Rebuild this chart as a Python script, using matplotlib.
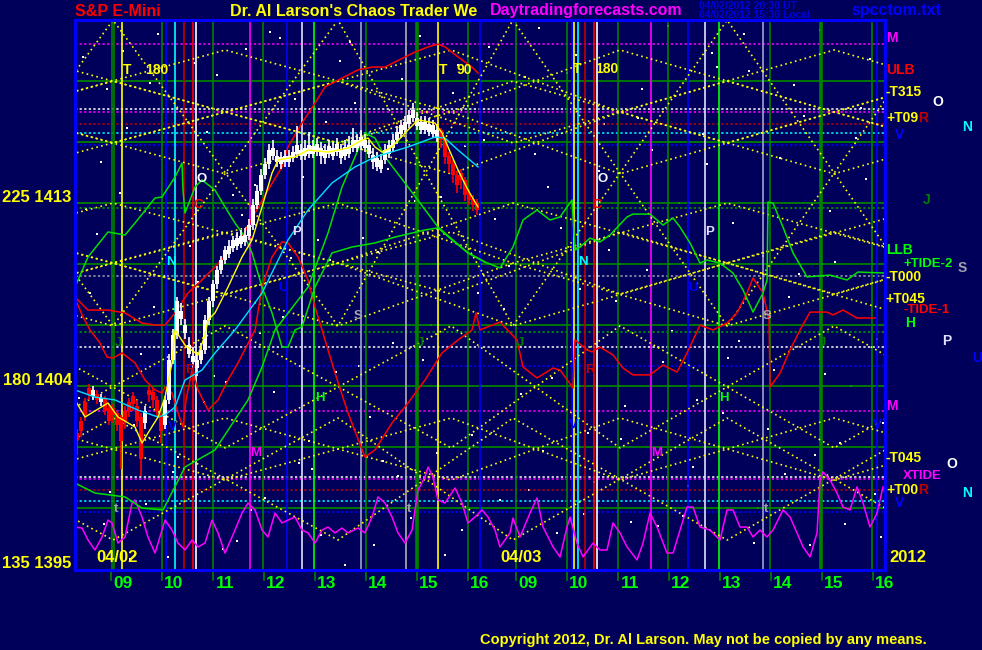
import matplotlib
matplotlib.use('Agg')
import matplotlib.pyplot as plt
import matplotlib.transforms as mtransforms
import numpy as np

W, H = 982, 650
BG = '#00005a'
FONT = 'Liberation Sans'

# ---------------- axes ranges (chart hours / price) ----------------
X_LEFT, X_RIGHT = 8.294, 24.176
Y_BOTTOM, Y_TOP = 1394.656, 1421.705
DAY2 = 7.941                      # chart hours from day-1 09:00 to day-2 09:00

tick_hours = [9, 10, 11, 12, 13, 14, 15, 16]
tick_labels = ['09', '10', '11', '12', '13', '14', '15', '16']

y_label_prices = [1413, 1404, 1395]
y_label_texts = ['225 1413', '180 1404', '135 1395']

# ---------------- candles (5-min bars, day 1) ----------------
bar_t0, bar_step = 8.333, 0.0784
bar_close = [1401.05,1401.5,1402.3,1403.25,1403.5,1403.0,1403.1,1402.5,1402.0,1402.3,
             1401.8,1401.0,1402.0,1402.5,1402.8,1402.0,1400.1,1402.5,1403.25,1403.0,
             1402.5,1401.5,1403.0,1405.0,1406.2,1407.9,1407.4,1406.7,1405.7,1405.2,
             1405.0,1405.5,1406.95,1407.9,1408.7,1409.4,1409.9,1410.4,1410.6,1410.9,
             1411.0,1411.1,1411.15,1411.6,1412.6,1413.3,1414.1,1414.6,1415.3,1415.4,
             1415.0,1414.95,1415.0,1415.0,1415.2,1415.55,1415.3,1415.4,1415.55,1415.5,
             1415.6,1415.4,1415.3,1415.5,1415.4,1415.6,1415.3,1415.45,1415.55,1415.8,
             1415.8,1415.95,1415.8,1415.55,1415.05,1414.9,1414.8,1415.3,1415.55,1415.8,
             1416.2,1416.55,1416.7,1417.05,1417.3,1416.9,1416.7,1416.7,1416.6,1416.55,
             1416.3,1415.8,1414.95,1414.6,1414.1,1413.6,1413.85,1413.1,1412.85,1412.6,
             1412.35]
bar_open = [1401.4,1402.0,1402.9,1403.6,1403.2,1403.3,1402.9,1403.1,1402.6,1402.6,
            1402.4,1402.2,1402.5,1402.9,1403.2,1402.7,1402.2,1401.9,1403.5,1403.4,
            1403.0,1402.3,1401.8,1403.0,1405.0,1406.2,1407.0,1406.3,1405.3,1404.9,
            1404.6,1405.0,1405.5,1406.95,1407.9,1408.7,1409.4,1409.9,1410.2,1410.5,
            1410.6,1410.7,1410.8,1411.1,1411.6,1412.6,1413.3,1414.1,1414.6,1415.0,
            1414.7,1414.6,1414.7,1414.7,1414.9,1415.1,1415.0,1415.0,1415.1,1415.1,
            1415.2,1415.0,1414.9,1415.1,1415.0,1415.2,1414.9,1415.0,1415.1,1415.4,
            1415.4,1415.5,1415.4,1415.1,1414.7,1414.5,1414.4,1414.8,1415.1,1415.4,
            1415.8,1416.1,1416.3,1416.6,1416.9,1416.5,1416.3,1416.3,1416.2,1416.1,
            1415.9,1416.3,1415.8,1415.0,1414.6,1414.1,1414.2,1413.85,1413.2,1412.9,
            1412.7]
bar_high = [1401.6,1402.2,1403.1,1403.8,1403.7,1403.5,1403.3,1403.2,1402.8,1402.8,
            1402.5,1402.3,1402.7,1403.1,1403.4,1403.0,1402.4,1402.7,1403.7,1403.6,
            1403.2,1402.5,1403.2,1405.3,1406.5,1408.1,1407.8,1407.0,1406.1,1405.6,
            1405.4,1405.8,1407.2,1408.1,1408.9,1409.6,1410.1,1410.6,1410.9,1411.1,
            1411.3,1411.4,1411.5,1411.9,1412.9,1413.6,1414.4,1414.9,1415.6,1415.8,
            1415.3,1415.2,1415.3,1415.3,1415.5,1416.5,1415.6,1415.8,1416.2,1415.8,
            1415.9,1415.7,1415.6,1415.8,1415.7,1415.9,1415.6,1415.8,1416.0,1416.4,
            1416.1,1416.3,1416.1,1415.8,1415.4,1415.2,1415.1,1415.6,1415.8,1416.1,
            1416.5,1416.8,1417.0,1417.3,1417.6,1417.2,1417.0,1417.0,1416.9,1416.8,
            1416.6,1416.4,1415.9,1415.2,1414.8,1414.3,1414.4,1414.0,1413.4,1413.1,
            1412.9]
bar_low = [1400.3,1401.2,1402.0,1403.0,1403.0,1402.8,1402.7,1402.3,1401.8,1401.9,
           1401.5,1399.6,1401.6,1402.2,1402.5,1401.7,1399.3,1401.6,1402.9,1402.6,
           1402.2,1400.9,1401.6,1402.8,1404.8,1406.0,1406.7,1406.0,1405.1,1404.6,
           1404.2,1404.8,1405.3,1406.7,1407.6,1408.5,1409.2,1409.7,1410.0,1410.3,
           1410.4,1410.5,1410.6,1410.9,1411.4,1412.4,1413.1,1413.9,1414.4,1414.8,
           1414.5,1414.4,1414.5,1414.5,1414.7,1414.9,1414.8,1414.8,1414.9,1414.9,
           1415.0,1414.6,1414.6,1414.9,1414.8,1415.0,1414.6,1414.8,1414.9,1415.2,
           1415.2,1415.3,1415.2,1414.9,1414.4,1414.3,1414.2,1414.6,1414.9,1415.2,
           1415.6,1415.9,1416.1,1416.4,1416.7,1416.3,1416.1,1416.1,1416.0,1415.9,
           1415.7,1415.4,1414.6,1414.2,1413.7,1413.2,1413.4,1412.8,1412.6,1412.3,
           1412.1]

# ---------------- overlay curves ----------------
ma_t = [8.294,8.49,8.941,9.137,9.47,9.608,9.725,9.922,10.059,10.196,10.255,10.451,10.706,
        10.843,10.902,11.039,11.294,11.569,11.765,11.961,12.157,12.275,12.608,12.863,13.255,
        13.647,13.922,14.039,14.176,14.314,14.51,14.824,15.02,15.353,15.49,15.608,15.804,16.0,16.196]
ma_p = [1403.02,1402.18,1402.87,1402.18,1401.69,1400.90,1401.39,1402.18,1403.16,1404.84,1406.46,
        1405.72,1405.23,1406.21,1406.95,1407.30,1408.57,1410.05,1410.89,1412.51,1414.18,1414.82,
        1414.97,1415.31,1415.21,1415.41,1415.80,1415.90,1415.46,1415.21,1415.46,1416.30,1416.79,
        1416.64,1416.15,1415.46,1414.33,1413.34,1412.51]

cyan_t = [8.294,8.686,9.078,9.53,9.922,10.059,10.255,10.451,10.784,11.039,11.431,11.961,12.471,
          12.863,13.333,13.784,14.176,14.824,15.353,15.549,15.804,16.196]
cyan_p = [1403.51,1403.16,1403.02,1402.52,1402.18,1402.28,1402.67,1404.00,1404.49,1405.33,1406.46,
          1408.28,1410.89,1412.36,1413.69,1414.48,1414.97,1415.46,1415.95,1415.90,1415.31,1414.48]

green1_t = [8.294,8.686,9.275,9.608,10.02,10.451,11.039,11.686,11.961,12.216,12.863,13.255,13.529,
            13.784,13.98,14.176,14.373,14.824,15.412,16.0,16.333]
green1_p = [1398.93,1398.44,1398.25,1397.70,1397.61,1399.72,1400.56,1403.02,1404.64,1406.46,1408.57,
            1411.23,1413.49,1414.97,1416.15,1415.90,1414.97,1413.49,1411.52,1410.25,1409.80]

green2_t = [8.294,8.549,8.941,9.275,9.47,9.863,10.0,10.255,10.392,10.412,10.451,10.647,10.784,11.039,
            11.235,11.431,11.627,11.765,11.961,12.157,12.353,12.471,12.608,12.745,13.0,13.333,13.725,
            14.176,14.569,15.157,15.412,15.686,16.0,16.333,16.627,16.882,17.078,17.353,17.608,17.804,
            18.039,18.098,18.196,18.392,18.588,18.784,19.118,19.235,19.569,19.824,20.02,20.157,20.353,
            20.549,20.686,20.941,21.196,21.392,21.588,21.784,21.863,21.882,21.98,22.176,22.373,22.647,
            23.098,23.431,23.647,24.176]
green2_p = [1408.57,1410.05,1411.28,1411.13,1411.72,1412.95,1413.00,1413.98,1414.67,1413.34,1412.21,
            1413.49,1413.84,1413.34,1412.51,1411.72,1411.03,1410.25,1408.57,1407.30,1405.62,1405.62,
            1406.46,1406.61,1408.57,1410.25,1410.54,1410.74,1411.03,1411.38,1411.48,1410.89,1410.25,
            1409.80,1409.51,1410.54,1411.87,1412.36,1411.87,1412.02,1412.85,1410.39,1410.54,1410.98,
            1410.79,1411.13,1412.02,1412.16,1412.16,1411.62,1411.97,1411.52,1410.74,1409.75,1409.90,
            1409.75,1409.26,1408.43,1407.34,1408.28,1408.92,1412.75,1412.70,1411.52,1410.25,1409.07,
            1409.16,1408.92,1409.31,1409.26]

red1_t = [8.294,8.549,8.941,9.275,9.608,9.863,10.059,10.255,10.51,10.784,11.039,11.294,11.569,11.824,
          12.078,12.353,12.471,12.745,13.0,13.196,13.529,13.843,14.118,14.373,14.569,14.961,15.216,
          15.412,15.549,15.804,16.078,16.196]
red1_p = [1408.08,1407.44,1407.44,1407.30,1406.80,1406.70,1406.70,1407.30,1408.28,1408.92,1409.56,
          1410.25,1411.03,1412.21,1413.34,1414.48,1415.46,1416.64,1417.62,1418.41,1418.85,1419.25,
          1419.39,1419.39,1419.64,1420.13,1420.38,1420.52,1420.38,1419.89,1419.39,1419.10]

red2_t = [8.294,8.451,8.588,8.784,8.922,9.039,9.216,9.47,9.667,9.863,10.0,10.059,10.196,10.314,10.412,
          10.471,10.588,10.706,10.902,11.098,11.294,11.49,11.824,11.961,12.157,12.353,12.471,12.667,
          12.863,13.0,13.137,13.392,13.647,13.98,14.176,14.51,14.824,15.157,15.49,15.804,16.078,16.157,
          16.235,16.627,16.961,17.078,17.353,17.667,17.804,18.059,18.098,18.333,18.431,18.588,18.843,
          19.039,19.235,19.569,19.824,20.098,20.294,20.549,20.804,21.078,21.275,21.471,21.588,21.784,
          21.902,21.922,22.118,22.314,22.51,22.706,23.039,23.157,23.353,23.627,23.98]
red2_p = [1408.03,1407.10,1406.46,1405.82,1405.13,1405.08,1405.33,1404.84,1404.00,1403.51,1403.36,
          1403.66,1403.36,1402.38,1401.69,1403.02,1404.49,1403.51,1402.52,1403.02,1404.00,1404.84,
          1406.46,1408.57,1410.05,1410.79,1410.74,1410.05,1408.92,1407.59,1406.46,1404.34,1402.38,
          1400.21,1400.56,1401.89,1402.87,1404.00,1405.33,1405.97,1406.46,1407.30,1406.46,
          1406.85,1405.97,1404.64,1404.10,1404.59,1404.49,1403.61,1405.97,1405.48,1405.38,1405.62,
          1405.23,1404.59,1404.25,1404.25,1404.74,1404.39,1405.33,1406.70,1406.46,1406.80,1407.30,
          1408.28,1409.02,1408.28,1406.95,1403.66,1404.34,1405.48,1406.46,1407.34,1407.34,1407.20,
          1407.44,1407.05,1407.05]

osc_t = [8.294,8.431,8.549,8.686,8.824,8.941,9.02,9.137,9.275,9.412,9.47,9.608,9.725,9.863,10.0,
         10.059,10.196,10.314,10.451,10.588,10.706,10.843,10.98,11.098,11.235,11.431,11.569,11.686,
         11.824,11.961,12.078,12.216,12.353,12.471,12.608,12.745,12.863,13.0,13.137,13.255,13.392,
         13.529,13.647,13.843,13.98,14.118,14.235,14.373,14.51,14.627,14.765,14.902,15.02,15.157,
         15.216,15.314,15.412,15.549,15.745,15.882,16.0,16.137,16.275,16.392,16.529,
         16.627,16.824,16.882,17.02,17.216,17.353,17.471,17.667,17.804,17.941,18.0,18.137,18.255,
         18.451,18.588,18.725,18.843,18.98,19.118,19.314,19.431,19.569,19.706,19.902,20.02,20.157,
         20.294,20.412,20.549,20.745,20.941,21.078,21.196,21.333,21.471,21.588,21.725,21.863,21.98,
         22.176,22.314,22.451,22.569,22.706,22.843,22.902,22.961,23.098,23.235,23.353,23.49,23.627,
         23.745,23.882,24.02,24.137]
osc_p = [1396.77,1396.72,1396.13,1395.64,1396.28,1397.11,1396.97,1395.98,1396.28,1397.95,1398.10,
         1397.26,1396.28,1395.49,1396.62,1397.11,1396.62,1395.98,1395.64,1396.13,1395.79,1395.98,
         1397.11,1396.48,1395.49,1396.62,1397.46,1397.95,1397.61,1396.62,1396.28,1397.46,1396.97,
         1397.11,1397.26,1396.62,1396.48,1395.98,1396.62,1396.77,1396.48,1396.72,1396.48,1396.72,
         1396.48,1397.26,1398.25,1397.95,1397.26,1396.48,1395.98,1396.62,1398.59,1399.23,1399.72,
         1399.23,1398.10,1397.95,1398.69,1397.95,1396.97,1397.26,1397.61,1397.26,1396.62,
         1395.79,1396.48,1397.21,1396.28,1397.46,1398.20,1396.77,1395.79,1395.30,1396.77,1397.26,
         1395.98,1395.30,1395.98,1395.64,1395.64,1396.97,1396.48,1395.79,1395.15,1395.98,1397.46,
         1396.77,1395.49,1395.49,1396.62,1397.75,1397.75,1396.77,1396.62,1396.13,1397.61,1397.61,
         1396.77,1396.77,1396.28,1396.62,1396.28,1396.62,1397.61,1397.26,1396.48,1395.79,1395.30,
         1396.48,1399.08,1399.48,1399.08,1398.44,1397.75,1397.61,1398.74,1397.95,1396.77,1397.46,
         1398.74]

# ---------------- time/price lines (yellow dotted zig-zags) ----------------
zig_times_A = [6.82, 11.24, 15.67, 18.98, 23.18, 27.38]
zig_times_B = [4.63, 9.04, 13.45, 16.88, 21.08, 25.28]
zigA_levels = [(1420.23, 1417.18), (1417.18, 1414.14), (1411.28, 1408.23),
               (1406.66, 1400.66), (1402.13, 1399.08)]
zigB_levels = [(1421.70, 1406.66), (1418.70, 1415.66), (1402.13, 1396.13),
               (1409.75, 1406.66), (1412.70, 1409.75)]

# ---------------- horizontal levels ----------------
green_levels = [1418.70, 1415.70, 1412.70, 1409.70, 1406.70, 1403.70, 1400.70, 1397.70]
dotted_levels = [1420.52, 1417.33, 1417.18, 1416.59, 1416.15, 1415.56, 1412.46, 1409.11,
                 1406.36, 1405.62, 1404.69, 1402.48, 1399.23, 1399.13, 1398.59, 1398.05, 1397.51]
dotted_colors = ['#ff00ff', '#ffffff', '#ff00ff', '#c00000', '#00ffff', '#0000ff', '#00a000', '#a0a0b0',
                 '#00a000', '#ffffff', '#0000ff', '#ff00ff', '#ffffff', '#ff00ff', '#c00000', '#00ffff', '#0000ff']

# ---------------- vertical time lines ----------------
vline_t = [9.014, 9.053, 9.216, 10.0, 10.078, 10.255, 10.431, 10.608, 10.667, 11.0, 11.725, 11.98,
           12.451, 12.745, 12.98, 13.902, 14.0, 14.784, 15.0, 15.412, 16.0, 16.235,
           16.941, 17.941, 18.039, 18.078, 18.157, 18.294, 18.471, 18.529, 18.941, 19.588, 19.922,
           20.314, 20.647, 20.922, 21.784, 21.922, 22.922, 23.922, 24.02]
vline_c = ['#008000', '#008000', '#ffff00', '#008000', '#0000ff', '#00ffff', '#c00000', '#ff0000',
           '#ffffff', '#008000', '#ff00ff', '#008000', '#0000ff', '#e0e0ff', '#00ff00', '#a0a0d0',
           '#008000', '#b0b0b0', '#008000', '#ffff00', '#008000', '#0000ff',
           '#008000', '#008000', '#0000ff', '#ffff00', '#00ffff', '#c00000', '#ff0000', '#ffffff',
           '#008000', '#ff00ff', '#008000', '#0000ff', '#e0e0ff', '#00ff00', '#a0a0d0', '#008000',
           '#008000', '#008000', '#0000ff']
vline_w = [1.2, 1.2, 1.2, 1.2, 1.2, 1.2, 1.2, 1.2, 1.2, 1.2, 1.2, 1.2, 1.2, 1.2, 1.2, 1.2,
           1.2, 1.2, 2.6, 1.2, 1.2, 1.2,
           1.2, 1.2, 1.2, 1.2, 1.2, 1.2, 1.2, 1.2, 1.2, 1.2, 1.2, 1.2, 1.2, 1.2, 1.2, 1.2,
           2.6, 1.2, 1.2]

# ---------------- planet letters ----------------
letter_text = ['O', 'C', 'N', 'P', 'U', 'S', 'J', 'J', 'R', 'H', 'V', 'M', 't', 't',
               'O', 'C', 'P', 'N', 'U', 'S', 'J', 'J', 'R', 'H', 'V', 'V', 'M', 't']
letter_t = [10.784, 10.706, 10.176, 12.647, 12.37, 13.843, 9.137, 15.06, 10.549, 13.10, 10.196,
            11.843, 9.098, 14.843,
            18.647, 18.53, 20.745, 18.255, 20.412, 21.863, 17.02, 22.941, 18.392, 21.02, 18.059,
            24.02, 19.706, 21.843]
letter_p = [1413.89, 1412.61, 1409.80, 1411.28, 1408.52, 1407.15, 1405.82, 1405.82, 1404.49, 1403.11,
            1401.69, 1400.41, 1397.66, 1397.66,
            1413.89, 1412.61, 1411.28, 1409.80, 1408.52, 1407.15, 1405.82, 1405.82, 1404.49, 1403.11,
            1401.79, 1401.79, 1400.41, 1397.66]
letter_c = ['#ffffff', '#ff0000', '#00ffff', '#e0e0ff', '#0000ff', '#a0a0b0', '#008000', '#008000',
            '#c00000', '#00ff00', '#0000ff', '#ff00ff', '#a0a0b0', '#a0a0b0',
            '#ffffff', '#ff0000', '#e0e0ff', '#00ffff', '#0000ff', '#a0a0b0', '#008000', '#008000',
            '#c00000', '#00ff00', '#0000ff', '#0000ff', '#ff00ff', '#a0a0b0']

t_marker_text = ['T', '180', 'T', '90', 'T', '180']
t_marker_t = [9.314, 9.9, 15.51, 15.93, 18.137, 18.73]
t_marker_p = [1419.25, 1419.25, 1419.25, 1419.25, 1419.30, 1419.30]

# ---------------- background star dots ----------------
star_t = [8.45,8.72,8.98,9.31,9.58,9.93,10.32,10.71,11.08,11.47,11.83,12.19,12.61,12.94,13.29,13.68,
          14.07,14.43,14.88,15.27,15.71,16.08,16.52,16.93,17.31,17.64,18.12,18.47,18.91,19.34,19.72,
          20.13,20.49,20.88,21.31,21.69,22.12,22.48,22.91,23.29,23.71,24.02,
          8.58,8.86,9.17,9.45,9.77,10.12,10.54,10.89,11.26,11.64,12.02,12.38,12.77,13.12,13.49,13.86,
          14.24,14.62,15.05,15.48,15.89,16.31,16.71,17.12,17.47,17.83,18.28,18.66,19.08,19.51,19.92,
          20.31,20.69,21.1,21.5,21.88,22.3,22.7,23.1,23.5,23.89,24.1,
          8.38,8.81,9.24,9.69,10.05,10.44,10.82,11.19,11.56,11.93,12.31,12.69,13.05,13.42,13.79,14.16,
          14.53,14.97,15.39,15.8,16.2,16.62,17.03,17.39,17.75,18.2,18.57,19.0,19.42,19.82,20.22,20.6,
          21.0,21.41,21.79,22.21,22.59,23.0,23.4,23.8,24.13,
          8.51,8.93,9.38,9.84,10.21,10.63,11.02,11.39,11.75,12.12,12.52,12.88,13.21,13.58,13.95,14.33,
          14.71,15.12,15.55,15.95,16.42,16.8,17.2,17.56,17.95,18.35,18.77,19.2,19.6,20.0,20.41,20.79,
          21.2,21.6,22.0,22.39,22.8,23.2,23.6,23.98]
star_p = [1419.9,1411.2,1398.5,1416.4,1405.3,1421.0,1400.2,1408.8,1419.0,1396.1,1413.6,1403.4,1417.8,
          1399.6,1409.9,1420.6,1402.2,1414.4,1397.2,1406.7,1418.1,1401.3,1411.9,1395.6,1415.1,1404.1,
          1420.0,1399.0,1407.9,1416.9,1396.8,1412.7,1403.0,1419.4,1405.9,1397.7,1414.9,1409.2,1421.2,
          1400.9,1417.4,1406.0,
          1408.3,1396.9,1413.2,1401.8,1418.6,1395.3,1410.6,1416.2,1403.9,1420.3,1398.2,1407.1,1414.0,
          1396.4,1419.7,1404.7,1410.3,1399.3,1420.9,1413.0,1396.6,1415.8,1407.5,1418.9,1400.5,1411.5,
          1397.4,1416.6,1402.7,1409.4,1421.4,1398.8,1414.6,1405.1,1419.2,1401.6,1408.1,1395.9,1412.3,
          1403.7,1419.8,1396.3,
          1403.1,1414.7,1420.2,1397.9,1409.1,1417.2,1402.9,1395.7,1412.1,1406.3,1420.8,1399.9,1410.9,
          1404.4,1417.6,1395.9,1405.8,1412.8,1400.4,1419.5,1408.3,1398.1,1403.3,1421.3,1396.5,1408.5,
          1414.3,1401.1,1418.3,1404.9,1397.3,1416.1,1402.4,1421.0,1410.1,1399.4,1417.0,1404.3,1396.9,
          1413.9,1401.9,
          1412.4,1418.3,1395.2,1407.6,1399.5,1419.6,1404.2,1413.1,1397.6,1421.1,1410.0,1401.0,1416.7,
          1394.9,1411.0,1400.0,1418.8,1405.0,1395.4,1415.5,1420.4,1409.6,1398.6,1413.5,1419.1,1401.4,
          1410.4,1397.0,1415.3,1406.4,1399.7,1420.1,1411.7,1396.0,1404.5,1418.5,1400.3,1409.8,1415.9,
          1398.4]

# ================= drawing =================
plt.rcParams['font.family'] = [FONT, 'DejaVu Sans']
fig = plt.figure(figsize=(W / 100, H / 100), dpi=100, facecolor=BG)
ax = fig.add_axes([75 / W, 80 / H, 810 / W, 550 / H])
ax.set_facecolor(BG)
ax.set_xlim(X_LEFT, X_RIGHT)
ax.set_ylim(Y_BOTTOM, Y_TOP)
ax.set_xticks([])
ax.set_yticks([])
for sp in ax.spines.values():
    sp.set_color('#0000ff')
    sp.set_linewidth(2.2)
    sp.set_zorder(20)

# stars
ax.scatter(star_t, star_p, s=3, c='#ffffff', marker='s', linewidths=0, zorder=1)

# horizontal levels
for p in green_levels:
    ax.axhline(p, color='#008000', lw=1.3, zorder=2)
for p, c in zip(dotted_levels, dotted_colors):
    ax.axhline(p, color=c, lw=1.1, ls=(0, (1.5, 1.5)), zorder=2)

# vertical lines
for t, c, w in zip(vline_t, vline_c, vline_w):
    ax.axvline(t, color=c, lw=w, zorder=2)

# zig-zag yellow dotted lines
def zig(times, hi, lo, start_hi):
    vals = []
    for i in range(len(times)):
        up = (i % 2 == 0) == start_hi
        vals.append(hi if up else lo)
    return vals

for hi, lo in zigA_levels:
    for s in (True, False):
        ax.plot(zig_times_A, zig(zig_times_A, hi, lo, s), color='#ffff00', lw=1.2,
                ls=(0, (1, 2.0)), zorder=3)
for hi, lo in zigB_levels:
    for s in (True, False):
        ax.plot(zig_times_B, zig(zig_times_B, hi, lo, s), color='#ffff00', lw=1.2,
                ls=(0, (1, 2.0)), zorder=3)

# curves
ax.plot(osc_t, osc_p, color='#ff00ff', lw=1.1, zorder=5)
ax.plot(red1_t, red1_p, color='#ff0000', lw=1.1, zorder=5)
ax.plot(red2_t, red2_p, color='#ff0000', lw=1.1, zorder=5)
ax.plot(green1_t, green1_p, color='#00e000', lw=1.1, zorder=5)
ax.plot(green2_t, green2_p, color='#00e000', lw=1.1, zorder=5)

# candles
n = len(bar_close)
bar_t = bar_t0 + np.arange(n) * bar_step
cols = ['#ffffff' if c >= o else '#ff0000' for o, c in zip(bar_open, bar_close)]
ax.vlines(bar_t, bar_low, bar_high, colors=cols, lw=1.2, zorder=6)
bottoms = [min(o, c) for o, c in zip(bar_open, bar_close)]
heights = [max(abs(c - o), 0.1) for o, c in zip(bar_open, bar_close)]
ax.bar(bar_t, heights, bottom=bottoms, width=0.066, color=cols, linewidth=0, zorder=6)

ax.plot(cyan_t, cyan_p, color='#00e0ff', lw=1.0, zorder=7)
ax.plot(ma_t, ma_p, color='#ffff00', lw=1.0, zorder=7)

# letters
for s, t, p, c in zip(letter_text, letter_t, letter_p, letter_c):
    ax.text(t, p, s, color=c, fontsize=9.5, fontweight='bold', ha='center', va='center', zorder=8)
for s, t, p in zip(t_marker_text, t_marker_t, t_marker_p):
    ax.text(t, p, s, color='#ffff00', fontsize=10, fontweight='bold', ha='center', va='center', zorder=8)

# x ticks and labels (outside axes)
bx = mtransforms.blended_transform_factory(ax.transData, ax.transAxes)
tick_pos = [h for h in tick_hours] + [h + DAY2 for h in tick_hours]
tick_txt = tick_labels + tick_labels
for t, s in zip(tick_pos, tick_txt):
    ax.plot([t, t], [0, -0.018], transform=bx, color='#008000', lw=1.2, clip_on=False, zorder=9)
    ax.text(t + 0.23, -0.025, s, transform=bx, color='#00ff00', fontsize=12.5, fontweight='bold',
            ha='center', va='center', clip_on=False)

# y labels
by = mtransforms.blended_transform_factory(ax.transAxes, ax.transData)
for p, s in zip(y_label_prices, y_label_texts):
    ax.text(-0.004, p, s, transform=by, color='#ffff00', fontsize=12, fontweight='bold',
            ha='right', va='center', clip_on=False)


def ftext(x, y, s, color, size, ha='left', weight='bold'):
    fig.text(x / W, 1 - y / H, s, color=color, fontsize=size, fontweight=weight,
             ha=ha, va='center')

# titles
ftext(75, 11, 'S&P E-Mini', '#ff0000', 11.5)
ftext(230, 11, "Dr. Al Larson's Chaos Trader We", '#ffff00', 11.5)
ftext(490, 11, 'Daytradingforecasts.com', '#ff00ff', 11.5)
ftext(699, 6, '04/02/2012 20:30 UT', '#0000dd', 7.5)
ftext(699, 15, '04/02/2012 15:30 Local', '#0000dd', 7.5)
ftext(851, 10, 'spcctom.txt', '#0000ff', 11.5)
ftext(480, 640, 'Copyright 2012, Dr. Al Larson. May not be copied by any means.', '#ffff00', 10.5)

# date labels
ftext(96, 558, '04/02', '#ffff00', 12)
ftext(500, 558, '04/03', '#ffff00', 12)
ftext(889, 558, '2012', '#ffff00', 12)

# right-side level labels
right_labels = [
    ('M', 886, 38, '#ff00ff', 10), ('ULB', 886, 70, '#ff0000', 10), ('-T315', 885, 92, '#ffff00', 10),
    ('O', 932, 102, '#ffffff', 10), ('+T09', 886, 118, '#ffff00', 10), ('R', 918, 118, '#c00000', 10),
    ('N', 962, 127, '#00ffff', 10), ('V', 895, 135, '#0000ff', 10), ('J', 923, 200, '#008000', 10),
    ('LLB', 886, 250, '#00ff00', 10), ('+TIDE-2', 903, 264, '#00ff00', 9.5), ('S', 958, 268, '#a0a0b0', 10),
    ('-T000', 885, 277, '#ffff00', 10), ('+T045', 885, 299, '#ffff00', 10), ('-TIDE-1', 903, 310, '#ff0000', 9.5),
    ('H', 905, 323, '#00ff00', 10), ('P', 942, 341, '#e0e0ff', 10), ('U', 972, 358, '#0000ff', 10),
    ('M', 886, 406, '#ff00ff', 10), ('-T045', 885, 458, '#ffff00', 10), ('O', 946, 464, '#ffffff', 10),
    ('XTIDE', 903, 476, '#ff00ff', 9.5), ('+T00', 886, 490, '#ffff00', 10), ('R', 918, 490, '#c00000', 10),
    ('N', 962, 493, '#00ffff', 10), ('V', 895, 503, '#0000ff', 10),
]
for s, x, y, c, fs in right_labels:
    ftext(x, y, s, c, fs)

fig.savefig('out.png', dpi=100, facecolor=BG)
